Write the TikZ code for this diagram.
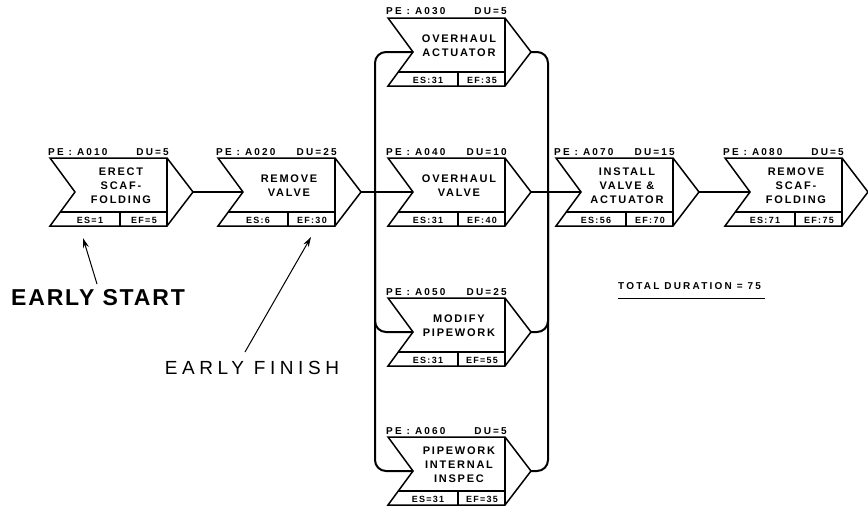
\documentclass[tikz,border=0pt]{standalone}
\usepackage{fontspec}
\setmainfont{Liberation Sans}
\newfontfamily\titlefont{Liberation Sans}[LetterSpace=16]
\newfontfamily\labelfont{Liberation Sans}[LetterSpace=22]
\newfontfamily\cellfont{Liberation Sans}[LetterSpace=14]
\newfontfamily\startfont{Liberation Sans}[LetterSpace=8]
\newfontfamily\finishfont{Liberation Sans}[LetterSpace=24]
\usetikzlibrary{arrows.meta}

\tikzset{
  boxline/.style={line width=1.5pt, line join=miter},
  divline/.style={line width=1.1pt},
  link/.style={line width=2pt, rounded corners=11pt},
  titletext/.style={font=\titlefont\bfseries\fontsize{11}{14}\selectfont, align=center, inner sep=0pt},
  labeltext/.style={font=\labelfont\bfseries\fontsize{10}{11}\selectfont, inner sep=0pt},
  celltext/.style={font=\cellfont\bfseries\fontsize{9}{10}\selectfont, inner sep=0pt, anchor=base},
  pointer/.style={line width=1pt, -{Stealth[length=10pt,width=6pt]}},
}

% #1 name, #2/#3 top-left corner, #4 PE label, #5 DU label,
% #6 activity text, #7 early start, #8 early finish
\newcommand\activity[8]{%
  \begin{scope}[shift={(#2,#3)}]
    \draw[boxline] (0,0) -- (117,0) -- (143,34) -- (117,68) -- (0,68) -- (25,34) -- cycle;
    \draw[divline] (117,0) -- (117,68);
    \draw[divline] (10.3,54) -- (117,54);
    \draw[divline] (70,54) -- (70,68);
    \node[titletext] (#1) at (71,28) {#6};
    \node[labeltext, anchor=base west] (#1-pe) at (-2,-3) {#4};
    \node[labeltext, anchor=base east] (#1-du) at (119,-3) {#5};
    \node[celltext] (#1-es) at (40,65.5) {#7};
    \node[celltext] (#1-ef) at (94,65.5) {#8};
    \coordinate (#1-in) at (25,34);
    \coordinate (#1-out) at (143,34);
  \end{scope}}

\begin{document}
\begin{tikzpicture}[x=1pt, y=-1pt]
  \fill[white] (0,0) rectangle (868,506);
  \useasboundingbox (0,0) rectangle (868,506);

  \activity{a010}{50}{158}{PE : A010}{DU=5}{ERECT\\SCAF-\\FOLDING}{ES=1}{EF=5}
  \activity{a020}{218}{158}{PE : A020}{DU=25}{REMOVE\\VALVE}{ES:6}{EF:30}
  \activity{a030}{388}{18}{PE : A030}{DU=5}{OVERHAUL\\ACTUATOR}{ES:31}{EF:35}
  \activity{a040}{388}{158}{PE : A040}{DU=10}{OVERHAUL\\VALVE}{ES:31}{EF:40}
  \activity{a050}{388}{298}{PE : A050}{DU=25}{MODIFY\\PIPEWORK}{ES:31}{EF=55}
  \activity{a060}{388}{437}{PE : A060}{DU=5}{PIPEWORK\\INTERNAL\\INSPEC}{ES=31}{EF=35}
  \activity{a070}{556}{158}{PE : A070}{DU=15}{INSTALL\\VALVE \&\\ACTUATOR}{ES:56}{EF:70}
  \activity{a080}{725}{158}{PE : A080}{DU=5}{REMOVE\\SCAF-\\FOLDING}{ES:71}{EF:75}

  % branch points of the parallel activities
  \coordinate (split) at (375,192);
  \coordinate (merge) at (548,192);

  \draw[link] (a010-out) -- (a020-in);
  \draw[link] (a020-out) -- (a040-in);
  \draw[link] (split) |- (a030-in);
  \draw[link] (split) |- (a050-in);
  \draw[link] (split) |- (a060-in);
  \draw[link] (a030-out) -| (merge);
  \draw[link] (a050-out) -| (merge);
  \draw[link] (a060-out) -| (merge);
  \draw[link] (a040-out) -- (a070-in);
  \draw[link] (a070-out) -- (a080-in);

  % total duration
  \node[labeltext, anchor=base west] (total) at (618,289) {TOTAL DURATION = 75};
  \draw[line width=1.5pt] ([yshift=-9pt]total.south west) -- ([yshift=-9pt,xshift=4pt]total.south east);

  % annotations
  \node[font=\startfont\bfseries\fontsize{23}{26}\selectfont, inner sep=0pt] (early-start) at (98,298) {EARLY START};
  \coordinate (es-tail) at (97,284);
  \coordinate (es-tip) at (83,238);
  \draw[pointer] (es-tail) -- (es-tip);

  \node[font=\finishfont\fontsize{19}{22}\selectfont, inner sep=0pt] (early-finish) at (252,368) {EARLY FINISH};
  \coordinate (ef-tail) at (245,352);
  \coordinate (ef-tip) at (311,237);
  \draw[pointer] (ef-tail) -- (ef-tip);
\end{tikzpicture}
\end{document}
